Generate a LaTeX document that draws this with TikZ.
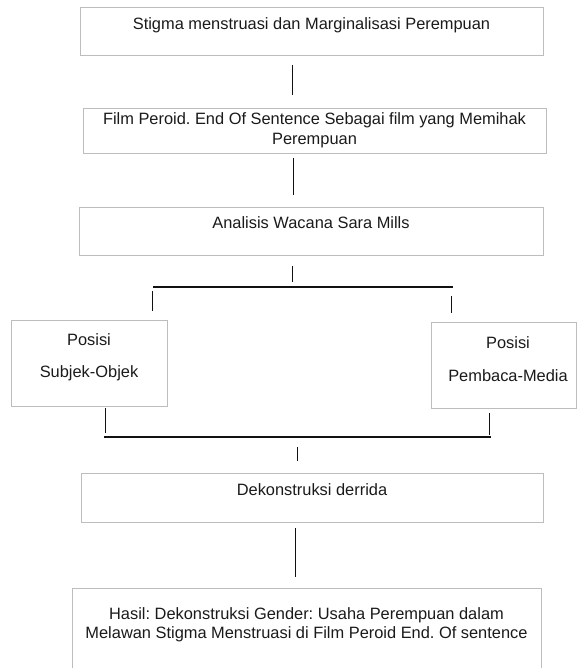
\documentclass[tikz,border=0pt]{standalone}
\usepackage{fontspec}
\setmainfont{Liberation Sans}
\definecolor{boxgray}{HTML}{BDBDBD}
\definecolor{inkc}{HTML}{1A1A1A}
\definecolor{linec}{HTML}{111111}
\begin{document}
\frenchspacing
\begin{tikzpicture}[x=1pt,y=-1pt,
  box/.style={draw=boxgray,line width=1.4pt,rectangle,inner sep=0pt,anchor=north west},
  txt/.style={inner sep=0pt,text=inkc,align=center,font=\fontsize{16.4}{19.5}\selectfont},
  conn/.style={draw=linec,line width=1pt},
  thickconn/.style={draw=linec,line width=2.8pt}]
\useasboundingbox (0,0) rectangle (578,668);
\clip (0,0) rectangle (578,668);
% boxes
\node[box,minimum width=463pt,minimum height=48pt] (b1) at (80,7) {};
\node[box,minimum width=463pt,minimum height=45pt] (b2) at (83,108) {};
\node[box,minimum width=464pt,minimum height=48pt] (b3) at (79,207) {};
\node[box,minimum width=156pt,minimum height=86pt] (b4) at (11,320) {};
\node[box,minimum width=145pt,minimum height=86pt] (b5) at (431,322) {};
\node[box,minimum width=462pt,minimum height=49pt] (b6) at (81,473) {};
\node[box,minimum width=469pt,minimum height=120pt] (b7) at (72,588) {};
% texts
\node[txt] (t1) at (311.5,25) {Stigma menstruasi dan Marginalisasi Perempuan};
\node[txt] (t2) at (314.5,130.5) {Film Peroid. End Of Sentence Sebagai film yang Memihak\\Perempuan};
\node[txt] (t3) at (311,223) {Analisis Wacana Sara Mills};
\node[txt,font=\fontsize{16.4}{32}\selectfont] (t4) at (89,357) {Posisi\\Subjek-Objek};
\node[txt,font=\fontsize{16.4}{33}\selectfont] (t5) at (508,359.5) {Posisi\\Pembaca-Media};
\node[txt] (t6) at (312,490) {Dekonstruksi derrida};
\node[txt] (t7) at (306.5,625) {Hasil: Dekonstruksi Gender: Usaha Perempuan dalam\\Melawan Stigma Menstruasi di Film Peroid End. Of sentence};
% connector coordinates
\coordinate (v1a) at (292,65);  \coordinate (v1b) at (292,95);
\coordinate (v2a) at (293,158); \coordinate (v2b) at (293,195);
\coordinate (v3a) at (292,266); \coordinate (v3b) at (292,282);
\coordinate (hla) at (153,287); \coordinate (hlb) at (453,287);
\coordinate (vla) at (152,291); \coordinate (vlb) at (152,311);
\coordinate (vra) at (451,296); \coordinate (vrb) at (451,313);
\coordinate (vba) at (105,408); \coordinate (vbb) at (105,433);
\coordinate (vca) at (489,413); \coordinate (vcb) at (489,435);
\coordinate (h2a) at (104,437); \coordinate (h2b) at (491,437);
\coordinate (vma) at (297,447); \coordinate (vmb) at (297,461);
\coordinate (v4a) at (295,528); \coordinate (v4b) at (295,577);
% connectors
\draw[conn] (v1a) -- (v1b);
\draw[conn] (v2a) -- (v2b);
\draw[conn] (v3a) -- (v3b);
\draw[thickconn] (hla) -- (hlb);
\draw[conn] (vla) -- (vlb);
\draw[conn] (vra) -- (vrb);
\draw[conn] (vba) -- (vbb);
\draw[conn] (vca) -- (vcb);
\draw[conn,line width=1.3pt] (h2a) -- (h2b);
\draw[conn] (vma) -- (vmb);
\draw[conn] (v4a) -- (v4b);
\end{tikzpicture}
\end{document}
